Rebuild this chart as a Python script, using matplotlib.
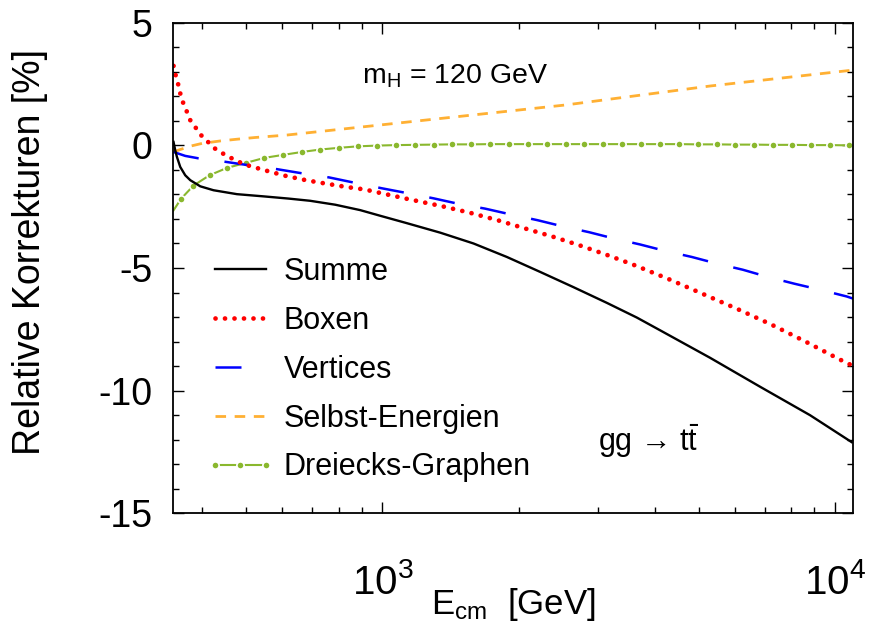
import numpy as np
import matplotlib
matplotlib.use('Agg')
import matplotlib.pyplot as plt
from matplotlib.ticker import MultipleLocator, LogLocator, NullFormatter
from matplotlib.legend_handler import HandlerTuple

plt.rcParams['font.family'] = ['Liberation Sans', 'DejaVu Sans']
plt.rcParams['mathtext.fontset'] = 'custom'
plt.rcParams['mathtext.rm'] = 'Liberation Sans'
plt.rcParams['mathtext.it'] = 'Liberation Sans:italic'
plt.rcParams['mathtext.bf'] = 'Liberation Sans:bold'
plt.rcParams['axes.unicode_minus'] = False

# ---------------- data (E_cm in GeV, corrections in %) ----------------
summe_x = [345.4, 348.4, 351.4, 357.4, 366.6, 376.1, 395.7, 423.3, 476.9, 546.1,
           620.2, 692.2, 786.4, 892.7, 988.3, 1126, 1342, 1589, 1883, 2231,
           2642, 3131, 3648, 4107, 5295, 6829, 8806, 10886]
summe_y = [0.14, -0.20, -0.47, -0.88, -1.22, -1.42, -1.67, -1.83, -1.99, -2.08,
           -2.17, -2.26, -2.42, -2.64, -2.87, -3.16, -3.56, -4.00, -4.55, -5.16,
           -5.78, -6.42, -7.02, -7.54, -8.66, -9.84, -11.00, -12.10]

boxen_x = [345.4, 348.8, 353.2, 357.4, 362.3, 369.7, 376.6, 386.3, 397.1, 410.6,
           424.8, 441.7, 460.1, 480.8, 504.3, 555.5, 609.8, 677.2, 749.9, 827.4,
           914.4, 988.3, 1126, 1353, 1562, 1795, 2067, 2367, 2720, 3115,
           3566, 4262, 5093, 6066, 7222, 8585, 10169, 10975]
boxen_y = [3.24, 2.89, 2.53, 2.12, 1.76, 1.37, 1.00, 0.73, 0.42, 0.16,
           -0.11, -0.31, -0.49, -0.67, -0.82, -1.04, -1.24, -1.42, -1.56, -1.69,
           -1.80, -1.94, -2.17, -2.48, -2.75, -3.05, -3.39, -3.71, -4.07, -4.45,
           -4.85, -5.43, -6.05, -6.66, -7.30, -7.99, -8.70, -9.00]

vert_x = [345.4, 366.6, 392.3, 449.3, 505.8, 584.5, 669.2, 763.5, 870.5, 996.9,
          1136, 1297, 1477, 1686, 1924, 2200, 2498, 2861, 3250, 3708,
          4227, 4825, 5481, 6254, 7122, 8131, 9233, 10612, 10975]
vert_y = [-0.27, -0.43, -0.53, -0.67, -0.81, -0.97, -1.15, -1.31, -1.53, -1.75,
          -1.95, -2.16, -2.39, -2.58, -2.82, -3.05, -3.30, -3.54, -3.80, -4.04,
          -4.31, -4.55, -4.82, -5.07, -5.37, -5.64, -5.88, -6.16, -6.25]

selbst_x = [345.4, 357.4, 378.8, 399.5, 438.5, 476.9, 523.1, 614.9, 1000, 2550, 5300, 10975]
selbst_y = [-0.27, -0.17, -0.02, 0.08, 0.18, 0.25, 0.32, 0.42, 0.84, 1.65, 2.42, 3.07]

drei_x = [345.4, 359.2, 382.3, 414.8, 453.2, 500.0, 548.7, 602.6, 663.7, 728.6,
          802.4, 882.5, 971.9, 1070, 1178, 1297, 1427, 1571, 1729, 1904,
          2095, 2307, 2539, 2795, 3077, 3386, 3728, 4104, 4519, 4974,
          5475, 6026, 6632, 7302, 8039, 8846, 9739, 10722, 10975]
drei_y = [-2.65, -2.17, -1.64, -1.22, -0.92, -0.71, -0.51, -0.39, -0.27, -0.17,
          -0.10, -0.04, -0.01, 0.01, 0.02, 0.03, 0.04, 0.04, 0.05, 0.05,
          0.05, 0.05, 0.05, 0.05, 0.05, 0.05, 0.05, 0.05, 0.05, 0.04,
          0.04, 0.03, 0.03, 0.02, 0.02, 0.01, 0.01, 0.00, 0.00]

labels = ['Summe', 'Boxen', 'Vertices', 'Selbst-Energien', 'Dreiecks-Graphen']
x_range = (345, 10975)
y_range = (-15, 5)

C_BLACK = 'black'
C_RED = '#FF0000'
C_BLUE = '#0000FF'
C_ORANGE = '#FFB033'
C_GREEN = '#8AB82E'

# ---------------- figure ----------------
fig = plt.figure(figsize=(8.81, 6.30), dpi=100)
ax = fig.add_axes([173.3 / 881, 1 - 513.3 / 630, 680 / 881, 490.6 / 630])
ax.set_xscale('log')

# green: solid line + white halo + markers => dash-dot look
ln_g, = ax.plot(drei_x, drei_y, color=C_GREEN, lw=1.5, zorder=2)
halo, = ax.plot(drei_x[1:-1], drei_y[1:-1], ls='none', marker='o', ms=6.4,
                mfc='white', mec='none', zorder=2.1)
mk_g, = ax.plot(drei_x[1:-1], drei_y[1:-1], ls='none', marker='o', ms=4.0,
                mfc=C_GREEN, mec='none', zorder=2.2)

ln_o, = ax.plot(selbst_x, selbst_y, color=C_ORANGE, lw=2.0,
                ls=(0, (3.8, 3.1)), zorder=3)
ln_b, = ax.plot(vert_x, vert_y, color=C_BLUE, lw=1.8,
                ls=(0, (10.4, 10.4)), zorder=3.2)
ln_r, = ax.plot(boxen_x, boxen_y, color=C_RED, lw=3.4,
                ls=(0, (0.01, 2.0)), dash_capstyle='round', zorder=3.5)
ln_k, = ax.plot(summe_x, summe_y, color=C_BLACK, lw=1.7, zorder=4)

ax.set_xlim(*x_range)
ax.set_ylim(*y_range)

ax.xaxis.set_major_locator(LogLocator(base=10, numticks=10))
ax.xaxis.set_minor_locator(LogLocator(base=10, subs=np.arange(2, 10), numticks=20))
ax.xaxis.set_minor_formatter(NullFormatter())
ax.yaxis.set_major_locator(MultipleLocator(5))
ax.yaxis.set_minor_locator(MultipleLocator(1))

ax.tick_params(which='both', direction='in', top=True, right=True, width=1.0)
ax.tick_params(which='major', length=8)
ax.tick_params(which='minor', length=4)
ax.tick_params(axis='y', which='major', labelsize=27, pad=15)
ax.tick_params(axis='x', which='major', labelsize=29, pad=36)
for s in ax.spines.values():
    s.set_linewidth(1.3)
    s.set_zorder(6)

ax.set_xlabel(r'E$_\mathrm{cm}$  [GeV]', fontsize=25, va='baseline')
ax.xaxis.set_label_coords(0.5, (513.3 - 614) / 490.6)
ax.set_ylabel('Relative Korrekturen [%]', fontsize=27, va='center')
ax.yaxis.set_label_coords((30 - 173.3) / 680, (513.3 - 252) / 490.6)

ax.text(0.2775, 0.877, r'm$_\mathrm{H}$ = 120 GeV', transform=ax.transAxes,
        fontsize=20.5, ha='left', va='baseline')
ax.text(0.6245, 0.127, 'gg → t' + r'$\bar{\mathrm{t}}$', transform=ax.transAxes,
        fontsize=22, ha='left', va='baseline')

handles = [ln_k, ln_r, ln_b, ln_o, (ln_g, halo, mk_g)]
leg = ax.legend(handles, labels, loc='upper left',
                bbox_to_anchor=(0.048, 0.523), frameon=False, fontsize=22,
                handlelength=2.25, handletextpad=0.3, labelspacing=0.62,
                borderpad=0, borderaxespad=0, numpoints=3,
                handler_map={tuple: HandlerTuple(ndivide=1, pad=0)})

fig.savefig('out.png', dpi=100)
